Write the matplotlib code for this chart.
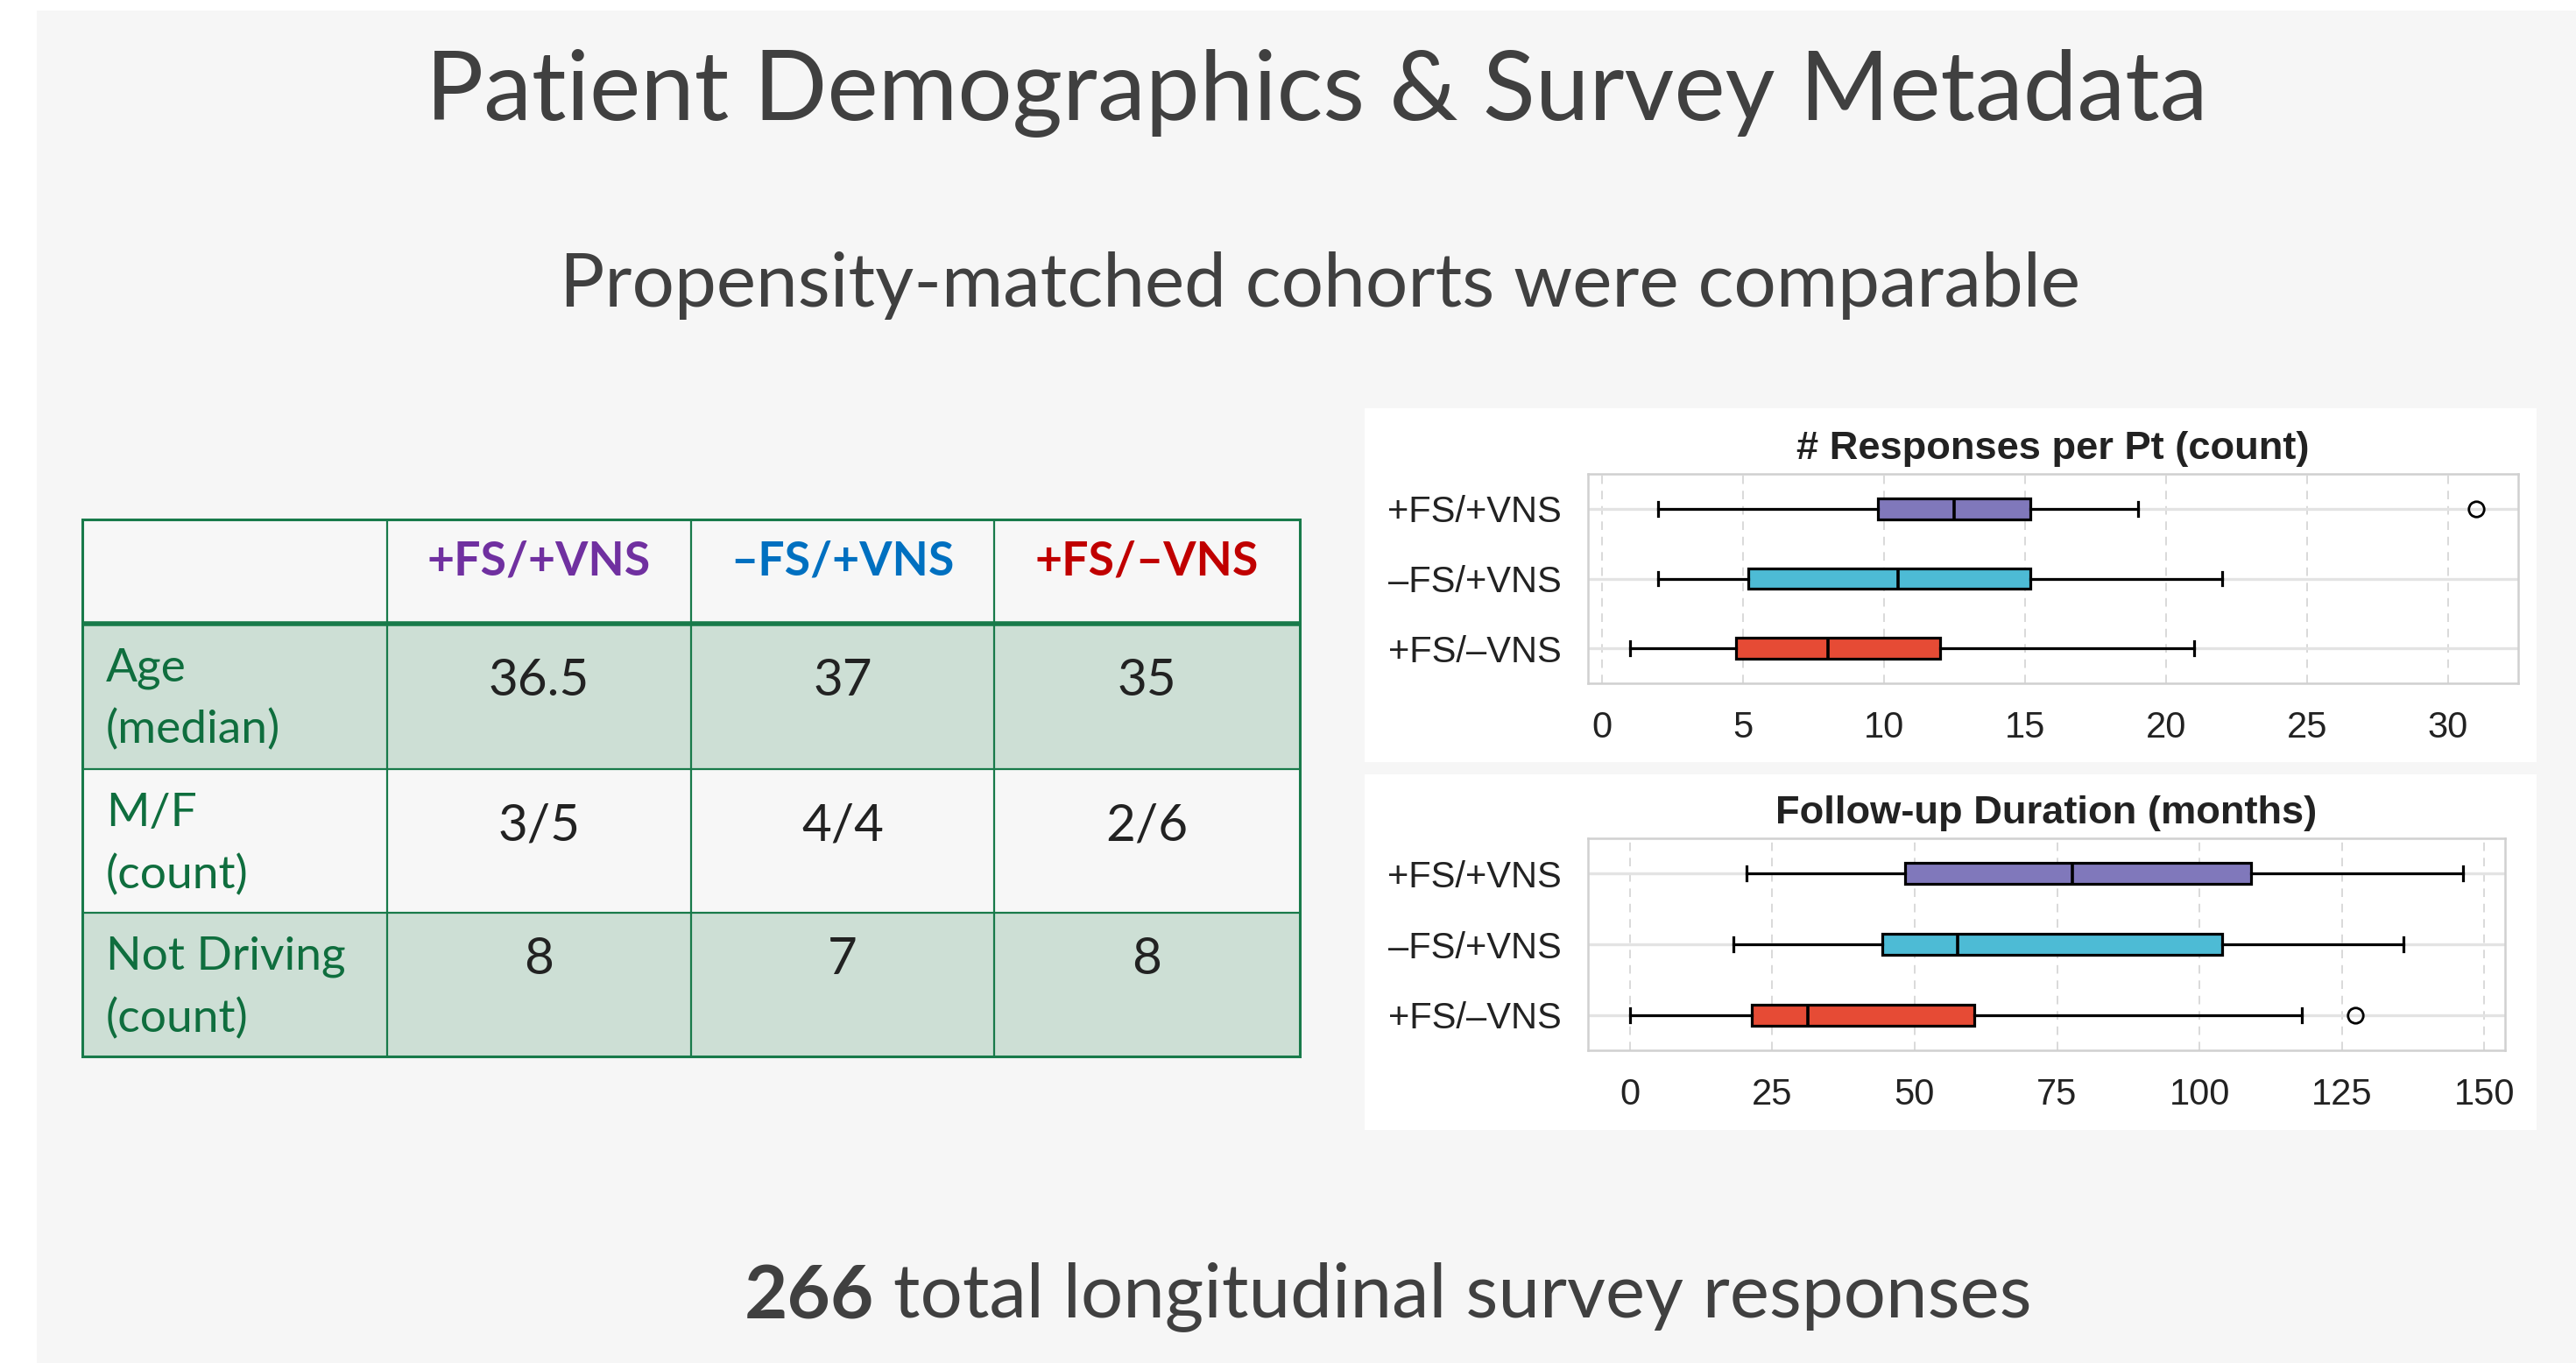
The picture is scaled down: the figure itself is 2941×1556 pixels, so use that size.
import matplotlib
matplotlib.use("Agg")
import matplotlib.pyplot as plt
from matplotlib.patches import Rectangle
from matplotlib.ticker import MultipleLocator

# ---------------- data ----------------
groups = ["+FS/+VNS", "\u2013FS/+VNS", "+FS/\u2013VNS"]
group_text_colors = ["#7030A0", "#0070C0", "#C00000"]
box_colors = ["#8078BB", "#4DBBD5", "#E64B35"]

row_label_top = ["Age", "M/F", "Not Driving"]
row_label_bottom = ["(median)", "(count)", "(count)"]
age_median = ["36.5", "37", "35"]
male_female = ["3/5", "4/4", "2/6"]
not_driving = ["8", "7", "8"]

# Responses per patient (count): box-plot summary per group
resp_whislo = [2, 2, 1]
resp_q1 = [9.8, 5.2, 4.75]
resp_med = [12.5, 10.5, 8.0]
resp_q3 = [15.2, 15.2, 12.0]
resp_whishi = [19, 22, 21]
resp_fliers = [[31], [], []]

# Follow-up duration (months)
fu_whislo = [20.5, 18.2, 0.0]
fu_q1 = [48.4, 44.4, 21.5]
fu_med = [77.7, 57.6, 31.2]
fu_q3 = [109.0, 103.9, 60.5]
fu_whishi = [146.3, 135.8, 118.0]
fu_fliers = [[], [], [127.3]]

total_responses = "266"

# ---------------- figure ----------------
W, H = 2941, 1556
DPI = 200
fig = plt.figure(figsize=(W / DPI, H / DPI), dpi=DPI, facecolor="white")

bg = fig.add_axes([0, 0, 1, 1], zorder=0)
bg.set_xlim(0, W)
bg.set_ylim(H, 0)
bg.axis("off")

# slide panel
bg.add_patch(Rectangle((42, 12), W - 42, H - 12, facecolor="#f6f6f6", edgecolor="none"))
# white panels behind the charts
bg.add_patch(Rectangle((1558, 466), 1338, 404, facecolor="white", edgecolor="none"))
bg.add_patch(Rectangle((1558, 884), 1338, 406, facecolor="white", edgecolor="none"))

SLIDE_FONT = ["Lato", "DejaVu Sans"]
TXT = "#404040"

bg.text(1503, 137, "Patient Demographics & Survey Metadata", ha="center", va="baseline",
        fontsize=39.7, color=TXT, family=SLIDE_FONT)
bg.text(1507, 350, "Propensity-matched cohorts were comparable", ha="center", va="baseline",
        fontsize=30.8, color=TXT, family=SLIDE_FONT)

t1 = bg.text(850, 1506, total_responses, ha="left", va="baseline", fontsize=30.7,
             fontweight="bold", color=TXT, family=SLIDE_FONT)
bg.annotate(" total longitudinal survey responses", xy=(1, 0), xycoords=t1,
            ha="left", va="bottom", fontsize=30.7, color=TXT, family=SLIDE_FONT)

# ---------------- table ----------------
GREEN = "#187a4a"
LABEL_GREEN = "#0f6e3e"
SHADE = "#cddfd5"
LIGHT = "#f7f7f7"
col_edges = [94, 442, 789, 1135, 1484]
row_edges = [593, 712, 878, 1042, 1206]
row_fill = [LIGHT, SHADE, LIGHT, SHADE]

for r in range(4):
    bg.add_patch(Rectangle((col_edges[0], row_edges[r]), col_edges[-1] - col_edges[0],
                           row_edges[r + 1] - row_edges[r], facecolor=row_fill[r],
                           edgecolor="none", zorder=1))
# grid lines
for x in col_edges[1:-1]:
    bg.plot([x, x], [row_edges[0], row_edges[-1]], color=GREEN, lw=0.8, zorder=2,
            solid_capstyle="butt")
for y in row_edges[2:-1]:
    bg.plot([col_edges[0], col_edges[-1]], [y, y], color=GREEN, lw=0.8, zorder=2,
            solid_capstyle="butt")
bg.plot([col_edges[0], col_edges[-1]], [row_edges[1], row_edges[1]], color=GREEN, lw=2.0,
        zorder=2, solid_capstyle="butt")
bg.add_patch(Rectangle((col_edges[0], row_edges[0]), col_edges[-1] - col_edges[0],
                       row_edges[-1] - row_edges[0], facecolor="none", edgecolor=GREEN,
                       lw=1.1, zorder=3))

col_centers = [(col_edges[i] + col_edges[i + 1]) / 2 for i in range(1, 4)]
for cx, g, c in zip(col_centers, groups, group_text_colors):
    bg.text(cx, 641, g, ha="center", va="center", fontsize=19.3, fontweight="bold",
            color=c, family=SLIDE_FONT, zorder=4)

values = [age_median, male_female, not_driving]
value_y = [777, 943, 1096]
for r in range(3):
    top = row_edges[r + 1]
    bg.text(121, top + 65, row_label_top[r], ha="left", va="baseline", fontsize=19.2,
            color=LABEL_GREEN, family=SLIDE_FONT, zorder=4)
    bg.text(121, top + 136, row_label_bottom[r], ha="left", va="baseline", fontsize=19.2,
            color=LABEL_GREEN, family=SLIDE_FONT, zorder=4)
    for cx, v in zip(col_centers, values[r]):
        bg.text(cx, value_y[r], v, ha="center", va="center", fontsize=21,
                color="#222222", family=SLIDE_FONT, zorder=4)

# ---------------- box plots ----------------
CHART_FONT = ["Liberation Sans", "DejaVu Sans"]


def make_stats(whislo, q1, med, q3, whishi, fliers):
    return [dict(whislo=a, q1=b, med=c, q3=d, whishi=e, fliers=f, label=g)
            for a, b, c, d, e, f, g in zip(whislo, q1, med, q3, whishi, fliers, groups)]


def draw_box(rect_px, stats, title, step):
    l, t, r, b = rect_px
    ax = fig.add_axes([l / W, 1 - b / H, (r - l) / W, (b - t) / H], zorder=2)
    ax.set_facecolor("white")
    bp = ax.bxp(stats, positions=range(len(stats)), widths=0.3, orientation="horizontal",
                patch_artist=True, showfliers=True, capwidths=0.2,
                boxprops=dict(edgecolor="black", linewidth=1.15),
                medianprops=dict(color="black", linewidth=1.3),
                whiskerprops=dict(color="black", linewidth=1.15),
                capprops=dict(color="black", linewidth=1.15),
                flierprops=dict(marker="o", markerfacecolor="none", markeredgecolor="black",
                                markersize=6.3, markeredgewidth=1.0))
    for patch, c in zip(bp["boxes"], box_colors):
        patch.set_facecolor(c)
    for art in bp["boxes"] + bp["medians"] + bp["whiskers"] + bp["caps"] + bp["fliers"]:
        art.set_zorder(3)
    ax.set_ylim(len(stats) - 0.5, -0.5)
    ax.xaxis.set_major_locator(MultipleLocator(step))
    ax.set_yticks(range(len(stats)))
    ax.set_yticklabels(groups)
    ax.tick_params(axis="both", length=0, labelsize=15, colors="#222222")
    ax.tick_params(axis="x", pad=11)
    ax.tick_params(axis="y", pad=11)
    for lab in ax.get_xticklabels() + ax.get_yticklabels():
        lab.set_family(CHART_FONT)
    ax.set_axisbelow(True)
    ax.grid(axis="x", color="#d9d9d9", linestyle=(0, (5, 4)), linewidth=0.7)
    ax.grid(axis="y", color="#e3e3e3", linestyle="-", linewidth=1.2)
    for s in ax.spines.values():
        s.set_color("#d0d0d0")
        s.set_linewidth(0.9)
    ax.set_title(title, fontsize=16.3, fontweight="bold", family=CHART_FONT, color="#222222",
                 pad=6)
    return ax


draw_box((1813, 541, 2875, 780),
         make_stats(resp_whislo, resp_q1, resp_med, resp_q3, resp_whishi, resp_fliers),
         "# Responses per Pt (count)", 5)
draw_box((1813, 957, 2860, 1199),
         make_stats(fu_whislo, fu_q1, fu_med, fu_q3, fu_whishi, fu_fliers),
         "Follow-up Duration (months)", 25)

fig.savefig("out.png", dpi=DPI, facecolor="white")
